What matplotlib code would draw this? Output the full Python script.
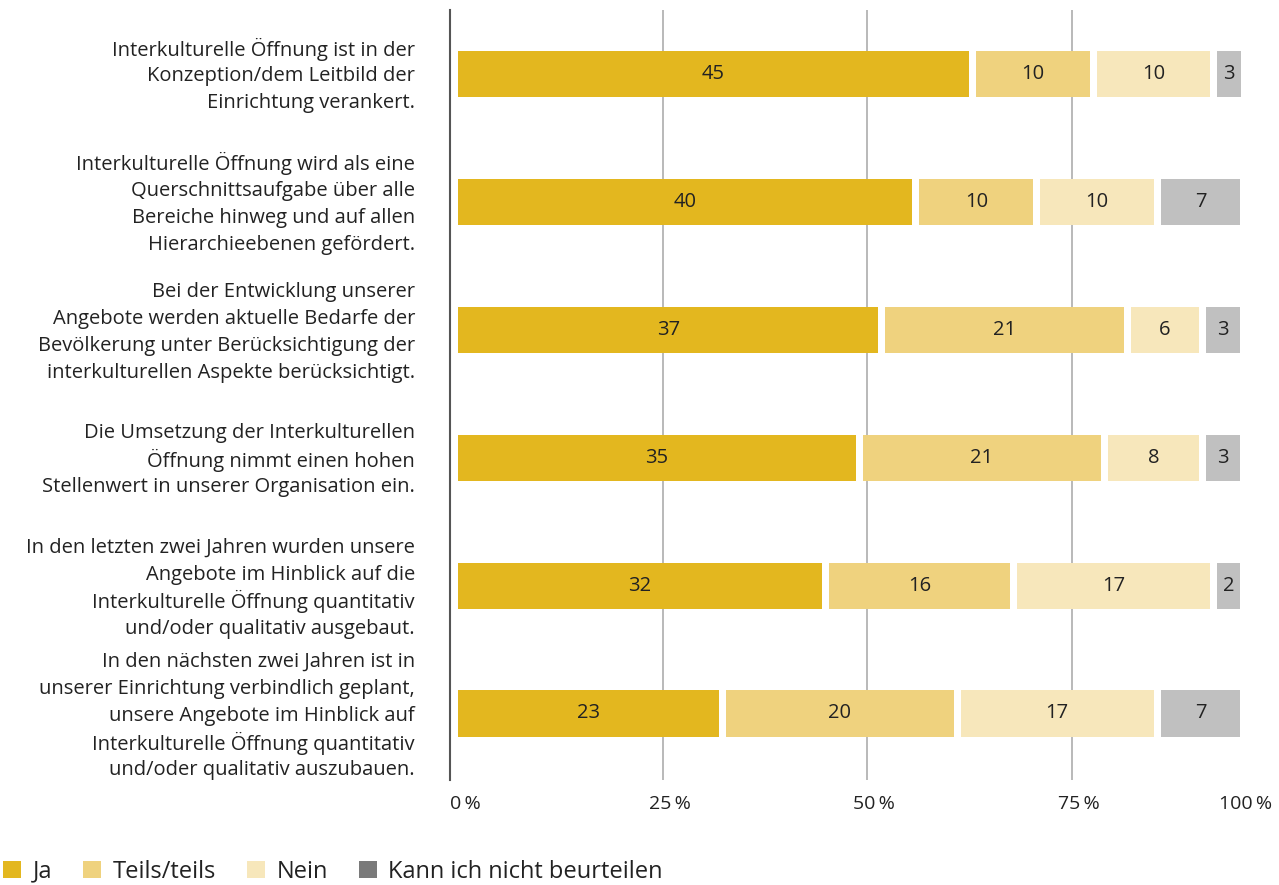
import numpy as np
import matplotlib
matplotlib.use("Agg")
import matplotlib.pyplot as plt
from matplotlib.patches import Patch

plt.rcParams['font.family'] = ['Open Sans', 'DejaVu Sans']

# statements (top to bottom)
statements = [
    "Interkulturelle Öffnung ist in der\nKonzeption/dem Leitbild der\nEinrichtung verankert.",
    "Interkulturelle Öffnung wird als eine\nQuerschnittsaufgabe über alle\nBereiche hinweg und auf allen\nHierarchieebenen gefördert.",
    "Bei der Entwicklung unserer\nAngebote werden aktuelle Bedarfe der\nBevölkerung unter Berücksichtigung der\ninterkulturellen Aspekte berücksichtigt.",
    "Die Umsetzung der Interkulturellen\nÖffnung nimmt einen hohen\nStellenwert in unserer Organisation ein.",
    "In den letzten zwei Jahren wurden unsere\nAngebote im Hinblick auf die\nInterkulturelle Öffnung quantitativ\nund/oder qualitativ ausgebaut.",
    "In den nächsten zwei Jahren ist in\nunserer Einrichtung verbindlich geplant,\nunsere Angebote im Hinblick auf\nInterkulturelle Öffnung quantitativ\nund/oder qualitativ auszubauen.",
]

categories = ["Ja", "Teils/teils", "Nein", "Kann ich nicht beurteilen"]
ja = [45, 40, 37, 35, 32, 23]
teils = [10, 10, 21, 21, 16, 20]
nein = [10, 10, 6, 8, 17, 17]
kann = [3, 7, 3, 3, 2, 7]
n_total = 72  # respondents, basis of the percent scale

tick_vals = [0, 25, 50, 75]
tick_labels = ["0\u2009%", "25\u2009%", "50\u2009%", "75\u2009%"]
last_label = "100\u2009%"

bar_colors = ["#e3b71f", "#efd27e", "#f7e7bb", "#c0c0c0"]
legend_colors = ["#e3b71f", "#efd27e", "#f7e7bb", "#7a7a7a"]
text_color = "#222222"

counts = np.array([ja, teils, nein, kann], dtype=float)
shares = counts / n_total * 100

fig = plt.figure(figsize=(12.79, 8.85), dpi=100)
# axes: 0 % at x=458 px, 100 % at x=1276 px
px_per_pct = (1276 - 458) / 100
x0 = -8 / px_per_pct
ax = fig.add_axes([450 / 1279, 1 - 780 / 885, 826 / 1279, 770 / 885])
ax.set_xlim(x0, 100)
ax.set_ylim(5.52, -0.5)

gap = 7 / px_per_pct   # white gap between segments
bar_end = (1241 - 458) / px_per_pct  # bars are cut at the right edge of the bar area

y = np.arange(len(statements))
left = np.zeros(len(statements))
for i in range(len(categories)):
    w = shares[i]
    right = np.minimum(left + w, bar_end)
    ax.barh(y, right - left, left=left, height=0.36, color=bar_colors[i], zorder=2)
    for yi, l, r, c in zip(y, left, right, counts[i]):
        ax.text((l + r) / 2, yi, "%d" % c, ha="center", va="center",
                fontsize=14.5, color=text_color, zorder=3)
    left = left + w + gap

ax.set_xticks(tick_vals[1:])
ax.xaxis.grid(True, color="#b3b3b3", linewidth=1.3, zorder=0)
ax.set_axisbelow(True)
ax.set_xticklabels([])
ax.tick_params(axis="x", length=0)
for v, lab in zip(tick_vals, tick_labels):
    ax.annotate(lab, (v, 5.52), xytext=(7, -15), textcoords="offset pixels",
                ha="center", va="top", fontsize=14, color=text_color,
                annotation_clip=False)
ax.annotate(last_label, (bar_end, 5.52), xytext=(5, -15), textcoords="offset pixels",
            ha="center", va="top", fontsize=14, color=text_color,
            annotation_clip=False)

ax.set_yticks([])
for s in ["top", "right", "bottom"]:
    ax.spines[s].set_visible(False)
ax.spines["left"].set_color("#555555")
ax.spines["left"].set_linewidth(1.5)

# row labels, one text per line so every line has the same pitch
line_px = 27
for yi, s in zip(y, statements):
    lines = s.split("\n")
    yc = ax.transData.transform((0, yi))[1]
    for k, line in enumerate(lines):
        yy = yc - (k - (len(lines) - 1) / 2) * line_px
        fig.text(415 / 1279, yy / 885, line, ha="right", va="center_baseline",
                 fontsize=14.5, color=text_color)

handles = [Patch(facecolor=c, edgecolor="none") for c in legend_colors]
fig.legend(handles, categories, loc="lower left", bbox_to_anchor=(3 / 1279, 1.5 / 885),
           ncol=4, frameon=False, fontsize=17, handlelength=0.76, handleheight=0.76,
           handletextpad=0.5, columnspacing=1.3, labelcolor=text_color,
           borderpad=0, borderaxespad=0)

fig.savefig("out.png", dpi=100)
